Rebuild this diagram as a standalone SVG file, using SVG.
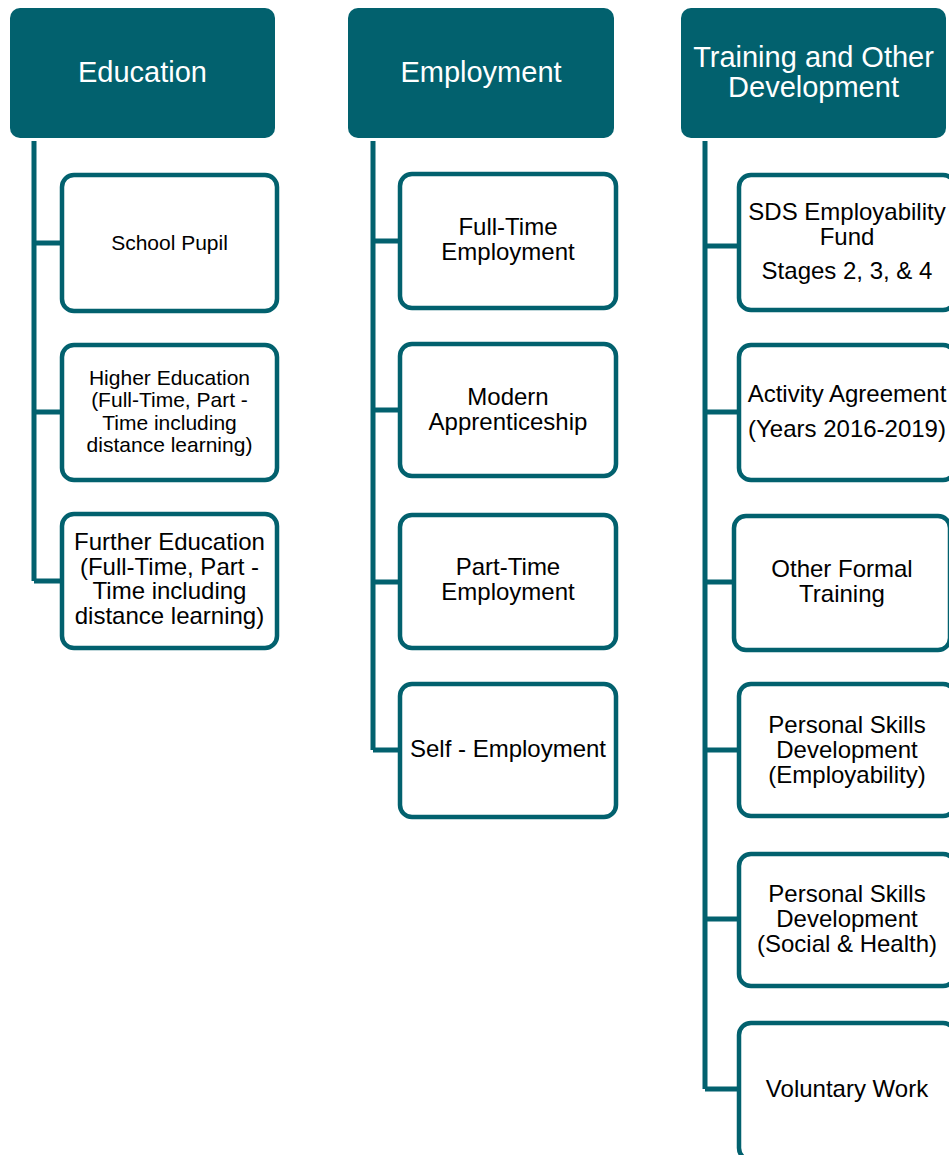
<svg xmlns="http://www.w3.org/2000/svg" width="949" height="1155" viewBox="0 0 949 1155">
<style>
.hdr{fill:#02616E}
.hdr-t{fill:#FFFFFF;font-family:"Liberation Sans",Arial,sans-serif;font-size:29px;text-anchor:middle}
.box{fill:#FFFFFF;stroke:#02616E;stroke-width:4.5}
.t{fill:#000000;font-family:"Liberation Sans",Arial,sans-serif;font-size:24px;text-anchor:middle}
.ts{font-size:21px}
.conn{fill:none;stroke:#02616E;stroke-width:5}
</style>
<rect width="949" height="1155" fill="#FFFFFF"/>
<g id="connectors">
<path class="conn" d="M34,141 V581 M34,243 H62 M34,412 H62 M34,581 H62"/>
<path class="conn" d="M373,141 V750 M373,241 H400 M373,410 H400 M373,582 H400 M373,750 H400"/>
<path class="conn" d="M705,141 V1089 M705,246 H739 M705,412 H739 M705,582 H734 M705,750 H739 M705,919 H739 M705,1089 H739"/>
</g>
<g id="education">
<rect class="hdr" x="10" y="8" width="265" height="130" rx="10"/>
<text class="hdr-t" x="142.5" y="82">Education</text>
</g>
<g id="school-pupil">
<rect class="box" x="62" y="175" width="215" height="136" rx="12"/>
<text class="t ts" x="169.5" y="250">School Pupil</text>
</g>
<g id="higher-education">
<rect class="box" x="62" y="345" width="215" height="135" rx="12"/>
<text class="t ts" x="169.5" y="385">Higher Education<tspan x="169.5" y="407">(Full-Time, Part -</tspan><tspan x="169.5" y="430">Time including</tspan><tspan x="169.5" y="452">distance learning)</tspan></text>
</g>
<g id="further-education">
<rect class="box" x="62" y="514" width="215" height="134" rx="12"/>
<text class="t" x="169.5" y="550">Further Education<tspan x="169.5" y="574.5">(Full-Time, Part -</tspan><tspan x="169.5" y="599">Time including</tspan><tspan x="169.5" y="623.5">distance learning)</tspan></text>
</g>
<g id="employment">
<rect class="hdr" x="348" y="8" width="266" height="130" rx="10"/>
<text class="hdr-t" x="481" y="82">Employment</text>
</g>
<g id="full-time-employment">
<rect class="box" x="400" y="174" width="216" height="134" rx="12"/>
<text class="t" x="508" y="235">Full-Time<tspan x="508" y="260">Employment</tspan></text>
</g>
<g id="modern-apprenticeship">
<rect class="box" x="400" y="344" width="216" height="132" rx="12"/>
<text class="t" x="508" y="405">Modern<tspan x="508" y="430">Apprenticeship</tspan></text>
</g>
<g id="part-time-employment">
<rect class="box" x="400" y="515" width="216" height="133" rx="12"/>
<text class="t" x="508" y="575">Part-Time<tspan x="508" y="600">Employment</tspan></text>
</g>
<g id="self-employment">
<rect class="box" x="400" y="684" width="216" height="133" rx="12"/>
<text class="t" x="508" y="757">Self - Employment</text>
</g>
<g id="training">
<rect class="hdr" x="681" y="8" width="265" height="130" rx="10"/>
<text class="hdr-t" x="813.5" y="67">Training and Other<tspan x="813.5" y="97">Development</tspan></text>
</g>
<g id="sds-employability-fund">
<rect class="box" x="739" y="175" width="216" height="135" rx="12"/>
<text class="t" x="847" y="220">SDS Employability<tspan x="847" y="245">Fund</tspan><tspan x="847" y="279">Stages 2, 3, &amp; 4</tspan></text>
</g>
<g id="activity-agreement">
<rect class="box" x="739" y="345" width="216" height="135" rx="12"/>
<text class="t" x="847" y="402">Activity Agreement<tspan x="847" y="437">(Years 2016-2019)</tspan></text>
</g>
<g id="other-formal-training">
<rect class="box" x="734" y="516" width="216" height="134" rx="12"/>
<text class="t" x="842" y="577">Other Formal<tspan x="842" y="602">Training</tspan></text>
</g>
<g id="personal-skills-employability">
<rect class="box" x="739" y="684" width="216" height="132" rx="12"/>
<text class="t" x="847" y="733">Personal Skills<tspan x="847" y="758">Development</tspan><tspan x="847" y="783">(Employability)</tspan></text>
</g>
<g id="personal-skills-social-health">
<rect class="box" x="739" y="854" width="216" height="132" rx="12"/>
<text class="t" x="847" y="902">Personal Skills<tspan x="847" y="927">Development</tspan><tspan x="847" y="952">(Social &amp; Health)</tspan></text>
</g>
<g id="voluntary-work">
<rect class="box" x="739" y="1023" width="216" height="137" rx="12"/>
<text class="t" x="847" y="1097">Voluntary Work</text>
</g>
</svg>
